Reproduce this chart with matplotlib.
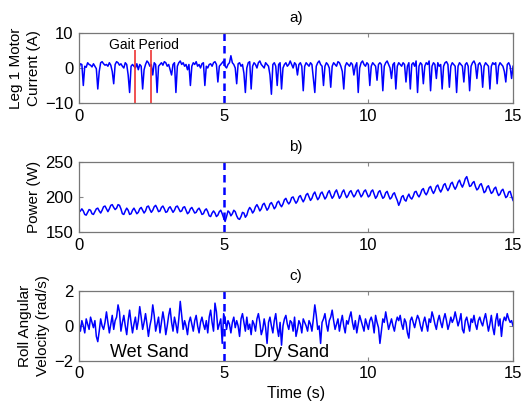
import matplotlib
matplotlib.use("Agg")
import matplotlib.pyplot as plt
import numpy as np

plt.rcParams["font.family"] = ["Liberation Sans", "DejaVu Sans"]

# ── Data (sampled every 0.05 s) ───────────────────────────────────────────────
DT = 0.05

leg1_current = [
    0.0, 1.2, 1.0, -5.0, 0.5, 0.2, 1.5, 1.0, 0.8, 0.3, 1.2, 0.5, -0.2, -6.0, -1.0, 1.5, 1.8, 1.2, 0.8, 1.0,
    0.5, 1.5, 0.8, -1.0, -4.5, 1.0, 1.8, 1.5, 0.8, 1.2, 0.5, 0.0, 1.5, 1.0, -2.0, -7.0, 0.5, 1.0, 0.5, 0.0,
    1.2, -0.5, 1.0, 0.5, -6.0, -0.5, 1.0, 2.0, 1.5, 0.5, 1.0, -2.0, 1.5, 1.0, -7.0, 0.5, 1.0, 1.5, 0.8, 1.8,
    1.5, 0.5, 1.0, -0.5, -2.0, 1.0, 1.5, -7.0, 0.5, 1.5, 2.0, 1.0, 1.5, 0.5, 1.0, -0.5, 1.0, -5.0, 0.5, 1.5,
    1.0, 1.8, 0.5, 1.0, 0.0, 1.2, 1.5, -5.0, 0.5, 0.0, 1.0, 1.2, 0.5, 1.5, 1.8, 1.0, -4.0, 0.5, 1.0, 1.5,
    2.0, 0.5, 0.0, 1.0, 1.5, 3.5, 1.5, 1.0, 0.0, -4.5, 1.2, 1.5, 0.5, 1.0, -1.5, -7.0, 0.0, 1.5, 1.8, -6.0,
    0.5, 1.5, 1.0, 0.0, 1.5, 2.0, 1.0, 0.5, 0.0, 1.5, 1.0, 0.5, -2.0, -7.5, 1.0, 1.5, 0.5, -5.0, 1.0, 1.5,
    -6.0, 0.0, 1.0, 1.5, 0.5, 1.0, 2.0, 1.0, 0.0, 1.5, 1.0, -2.0, 1.0, 1.5, 0.5, -6.5, 0.5, 1.5, 1.0, 0.5,
    1.5, 1.0, -3.0, -7.0, 0.5, 1.5, 2.0, 1.0, 0.5, -5.0, 0.5, 1.5, 1.0, 0.0, -5.5, 0.5, 1.5, 1.0, 0.5, 1.8,
    1.5, 0.5, -1.0, -6.0, 0.5, 1.5, 1.0, 0.5, 1.5, 1.0, -2.0, 0.5, 1.5, -7.0, 0.0, 1.5, 2.0, 1.0, 0.5, 1.5,
    1.0, -5.0, 0.5, 1.5, 1.0, 0.5, -3.5, 1.0, 1.5, 1.0, -6.5, 0.5, 1.5, 2.0, 1.0, 0.0, -3.0, 1.0, 1.5, -6.0,
    0.5, 1.5, 1.0, 0.5, 1.5, 1.0, -4.0, 0.5, 1.5, -6.0, 1.0, 1.5, 0.5, 2.0, -7.0, 0.5, 1.5, 1.0, -4.5, 0.5,
    1.5, 1.0, 2.0, -6.5, 0.5, 1.5, 1.0, -3.0, 1.5, 0.5, 1.0, -6.0, 0.5, 1.5, 1.8, 1.0, -5.5, 0.5, 1.5, 1.0,
    0.5, -7.0, 0.5, 1.5, 1.0, 0.5, -4.0, 1.0, 1.5, 0.5, -6.5, 0.5, 1.5, 2.0, 1.0, -3.0, 1.0, 1.5, 0.5, -5.5,
    0.5, 1.5, 1.0, 0.5, -6.0, 0.5, 1.5, 1.0, 1.5, -4.5, 0.5, 1.5, 1.0, 0.5, -1.0, -4.0, 1.0, 1.5, 0.5, -3.0,
    0.5,
]

power = [
    178, 180, 183, 180, 175, 174, 178, 182, 181, 176, 175, 179, 183, 184, 180, 177, 181, 186, 187, 183,
    179, 183, 188, 189, 185, 182, 184, 189, 188, 183, 176, 175, 180, 184, 181, 175, 176, 181, 184, 180,
    176, 178, 183, 185, 181, 177, 180, 186, 187, 182, 178, 181, 186, 188, 184, 179, 180, 185, 187, 183,
    178, 179, 184, 186, 182, 178, 181, 186, 187, 183, 179, 180, 185, 186, 181, 176, 178, 183, 185, 181,
    177, 178, 182, 184, 180, 175, 176, 181, 183, 179, 173, 172, 177, 180, 177, 172, 174, 179, 181, 176,
    170, 165, 172, 180, 178, 173, 176, 181, 179, 173, 169, 168, 172, 178, 177, 171, 174, 181, 185, 182,
    177, 180, 186, 189, 185, 180, 183, 189, 191, 186, 181, 184, 190, 192, 188, 183, 186, 192, 194, 189,
    186, 190, 196, 198, 193, 190, 193, 199, 200, 195, 191, 194, 200, 202, 197, 193, 197, 203, 205, 200,
    195, 198, 204, 207, 201, 196, 199, 205, 207, 202, 197, 200, 206, 209, 203, 198, 201, 207, 210, 204,
    198, 201, 207, 210, 204, 199, 202, 207, 209, 204, 200, 203, 208, 210, 205, 200, 203, 208, 210, 205,
    200, 202, 208, 210, 204, 198, 201, 207, 209, 203, 198, 200, 206, 208, 202, 197, 199, 204, 206, 200,
    195, 188, 193, 200, 202, 196, 194, 200, 204, 199, 197, 201, 207, 208, 203, 200, 204, 210, 212, 206,
    203, 207, 213, 215, 209, 205, 209, 215, 217, 211, 207, 211, 217, 219, 213, 209, 213, 219, 221, 215,
    211, 215, 221, 224, 218, 214, 219, 226, 229, 222, 215, 216, 220, 222, 215, 210, 212, 217, 219, 213,
    206, 208, 214, 216, 210, 205, 207, 212, 214, 207, 202, 204, 209, 211, 205, 199, 201, 207, 208, 201,
    195,
]

roll_rate = [
    0.2, -0.3, 0.3, 0.0, -0.4, 0.4, 0.1, -0.2, 0.5, 0.2, -0.1, 0.3, -0.6, -0.9, -0.3, 0.4, 0.0, -0.2, 0.2, 0.8,
    0.2, -0.4, 0.1, 0.6, -0.2, 0.3, 0.5, 1.2, 0.8, -0.3, 0.2, 0.6, 0.0, -0.5, 0.3, 0.9, 0.2, -0.4, 0.1, 0.5,
    -0.2, 0.3, 1.1, 0.5, -0.2, 0.2, 0.7, 0.1, -0.6, 0.0, 0.4, 1.2, 0.6, -0.3, 0.1, 0.5, -0.4, 0.2, 0.8, 0.3,
    -0.5, 0.0, 0.6, 1.0, 0.2, -0.3, 0.5, 0.1, -0.4, 0.4, 1.4, 0.6, -0.2, 0.3, 0.0, -0.5, 0.2, 0.5, 0.1, -0.3,
    0.3, 0.6, 0.0, -0.4, 0.2, 0.5, 0.1, -0.2, 0.3, -0.4, 0.5, 0.9, 0.2, -0.3, 1.3, 0.8, -0.2, 0.1, 0.4, -1.0,
    0.7, 0.4, -0.2, 0.3, 0.1, -0.4, 0.2, 0.5, -0.1, 0.3, 0.0, -0.6, 0.4, 0.7, 0.2, -0.3, 0.5, -0.2, 0.1, -0.5,
    0.3, 0.1, -0.3, 0.4, 0.7, 0.2, -0.5, -0.2, 0.4, -0.1, -1.0, 0.2, 0.5, 0.0, -0.4, 0.3, 0.7, -0.1, -0.6, 0.2,
    -1.1, 0.0, 0.4, 0.6, 0.1, -0.2, 0.3, 0.2, -0.3, 0.5, -0.6, -0.2, 0.3, 0.1, -0.4, 0.4, 0.2, 0.0, -0.3, 0.3,
    0.1, -0.3, 0.4, 1.2, 0.6, -0.2, 0.0, -1.0, 0.2, 0.4, 0.7, 0.1, -0.3, 0.3, 0.5, 0.9, 0.3, -0.2, 0.1, 0.4,
    -0.3, 0.2, 0.6, 0.0, -0.4, 0.3, 0.1, 0.5, 0.8, 0.2, -0.2, 0.3, -0.4, 0.1, 0.6, 0.3, 0.0, -0.3, 0.4, 0.1,
    -0.2, 0.3, 0.5, 0.2, -0.4, 0.6, 0.2, -0.1, -1.0, -0.3, 0.4, 0.2, 0.8, 0.3, -0.2, 0.1, 0.4, 0.0, -0.3, 0.2,
    0.5, 0.3, 0.6, 0.1, -0.2, 0.4, 0.2, -0.4, -0.7, 0.3, 0.5, 0.2, -0.1, 0.3, 0.6, 0.4, 0.0, -0.3, 0.2, 0.5,
    0.1, -0.3, 0.4, 0.2, 0.8, 0.5, 0.1, -0.2, 0.3, 0.6, 0.2, -0.1, 0.4, 0.7, 0.3, -0.2, 0.1, 0.5, 0.2, 0.4,
    0.8, 0.4, 0.0, 0.3, 0.7, -0.2, -0.4, 0.3, 0.5, 0.1, -0.3, 0.4, 0.2, 0.6, 0.1, -0.2, 0.3, 0.5, 0.2, 0.0,
    0.4, 0.7, 0.2, -0.3, 0.1, 0.6, -0.1, -0.5, 0.3, 0.7, 0.0, 0.4, -0.6, 0.2, 0.5, 0.3, 0.7, 0.4, 0.2, 0.3,
    0.0,
]

switch_time = 5.0              # wet sand -> dry sand
gait_marks = [1.94, 2.5]       # one gait period
gait_mark_top = 5.0

panels = [
    ("a)", leg1_current, "Leg 1 Motor\nCurrent (A)", (-10, 10), [-10, 0, 10]),
    ("b)", power, "Power (W)", (150, 250), [150, 200, 250]),
    ("c)", roll_rate, "Roll Angular\nVelocity (rad/s)", (-2, 2), [-2, 0, 2]),
]

# ── Plot ──────────────────────────────────────────────────────────────────────
fig = plt.figure(figsize=(5.3, 4.12), dpi=100)
bottoms = [0.750, 0.437, 0.124]
axes = []
for (title, vals, ylabel, ylim, yticks), b in zip(panels, bottoms):
    ax = fig.add_axes([0.149, b, 0.819, 0.170])
    t = np.arange(len(vals)) * DT
    ax.plot(t, vals, color="blue", linewidth=1.1)
    ax.axvline(switch_time, color="blue", linestyle=(0, (3, 2)), linewidth=1.8)
    ax.set_xlim(0, 15)
    ax.set_ylim(*ylim)
    ax.set_xticks([0, 5, 10, 15])
    ax.set_yticks(yticks)
    ax.set_title(title, fontsize=11, pad=8)
    ax.set_ylabel(ylabel, fontsize=11, labelpad=3, linespacing=1.35)
    ax.tick_params(direction="in", top=True, right=True, length=3,
                   color="#888888", labelsize=12, pad=4)
    for s in ax.spines.values():
        s.set_color("#777777")
        s.set_linewidth(0.9)
    axes.append(ax)

ax_a, ax_b, ax_c = axes
ax_a.vlines(gait_marks, -10, gait_mark_top, color="#ee3333", linewidth=1.2)
ax_a.text(2.25, 6.6, "Gait Period", fontsize=10, ha="center", va="center")

ax_c.text(2.42, -1.5, "Wet Sand", fontsize=13, ha="center", va="center")
ax_c.text(7.36, -1.5, "Dry Sand", fontsize=13, ha="center", va="center")
ax_c.set_xlabel("Time (s)", fontsize=11.5, labelpad=3)

fig.savefig("out.png", dpi=100)
